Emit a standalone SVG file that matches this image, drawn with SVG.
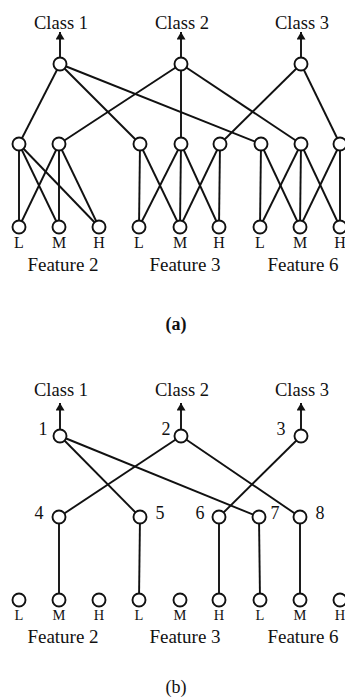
<svg xmlns="http://www.w3.org/2000/svg" width="345" height="697" viewBox="0 0 345 697">
  <style>
    .n { fill: #fff; stroke: #111; stroke-width: 1.9; }
    .e { stroke: #111; stroke-width: 1.9; fill: none; }
    .t { font-family: "Liberation Serif", "Times New Roman", serif; fill: #111; text-anchor: middle; }
    .cls { font-size: 18.5px; }
    .lvl { font-size: 16px; }
    .lvlb { font-size: 14.5px; }
    .feat { font-size: 19px; }
    .num { font-size: 18px; }
    .cap { font-size: 18px; }
  </style>
  <defs>
    <marker id="arr" viewBox="0 0 10 12" refX="10" refY="6" markerWidth="11" markerHeight="9" markerUnits="userSpaceOnUse" orient="auto">
      <path d="M0,0 L10,6 L0,12 z" fill="#111"/>
    </marker>
  </defs>
  <rect width="345" height="697" fill="#fff"/>

  <!-- ===== (a) fully connected network ===== -->
  <g id="a-connectors">
    <!-- outputs -->
    <line class="e" x1="60" y1="57.5" x2="60" y2="32" marker-end="url(#arr)"/>
    <line class="e" x1="181" y1="57.5" x2="181" y2="32" marker-end="url(#arr)"/>
    <line class="e" x1="301" y1="57.5" x2="301" y2="32" marker-end="url(#arr)"/>
    <!-- class to hidden -->
    <line class="e" x1="60" y1="64" x2="19" y2="144"/>
    <line class="e" x1="60" y1="64" x2="140" y2="144"/>
    <line class="e" x1="60" y1="64" x2="261" y2="144"/>
    <line class="e" x1="181" y1="64" x2="59" y2="144"/>
    <line class="e" x1="181" y1="64" x2="181" y2="144"/>
    <line class="e" x1="181" y1="64" x2="301" y2="144"/>
    <line class="e" x1="301" y1="64" x2="220" y2="144"/>
    <line class="e" x1="301" y1="64" x2="340" y2="144"/>
    <!-- hidden to feature 2 -->
    <line class="e" x1="19" y1="144" x2="19" y2="227"/>
    <line class="e" x1="19" y1="144" x2="59" y2="227"/>
    <line class="e" x1="19" y1="144" x2="99" y2="227"/>
    <line class="e" x1="59" y1="144" x2="19" y2="227"/>
    <line class="e" x1="59" y1="144" x2="59" y2="227"/>
    <line class="e" x1="59" y1="144" x2="99" y2="227"/>
    <!-- hidden to feature 3 -->
    <line class="e" x1="140" y1="144" x2="139" y2="227"/>
    <line class="e" x1="140" y1="144" x2="180" y2="227"/>
    <line class="e" x1="181" y1="144" x2="139" y2="227"/>
    <line class="e" x1="181" y1="144" x2="180" y2="227"/>
    <line class="e" x1="181" y1="144" x2="219" y2="227"/>
    <line class="e" x1="220" y1="144" x2="180" y2="227"/>
    <line class="e" x1="220" y1="144" x2="219" y2="227"/>
    <!-- hidden to feature 6 -->
    <line class="e" x1="261" y1="144" x2="260" y2="227"/>
    <line class="e" x1="261" y1="144" x2="300" y2="227"/>
    <line class="e" x1="301" y1="144" x2="260" y2="227"/>
    <line class="e" x1="301" y1="144" x2="300" y2="227"/>
    <line class="e" x1="301" y1="144" x2="340" y2="227"/>
    <line class="e" x1="340" y1="144" x2="300" y2="227"/>
    <line class="e" x1="340" y1="144" x2="340" y2="227"/>
  </g>

  <g id="a-class1"><circle class="n" cx="60" cy="64" r="6.5"/><text class="t cls" x="61" y="29">Class 1</text></g>
  <g id="a-class2"><circle class="n" cx="181" cy="64" r="6.5"/><text class="t cls" x="182" y="29">Class 2</text></g>
  <g id="a-class3"><circle class="n" cx="301" cy="64" r="6.5"/><text class="t cls" x="302" y="29">Class 3</text></g>

  <g id="a-h1"><circle class="n" cx="19" cy="144" r="6.5"/></g>
  <g id="a-h2"><circle class="n" cx="59" cy="144" r="6.5"/></g>
  <g id="a-h3"><circle class="n" cx="140" cy="144" r="6.5"/></g>
  <g id="a-h4"><circle class="n" cx="181" cy="144" r="6.5"/></g>
  <g id="a-h5"><circle class="n" cx="220" cy="144" r="6.5"/></g>
  <g id="a-h6"><circle class="n" cx="261" cy="144" r="6.5"/></g>
  <g id="a-h7"><circle class="n" cx="301" cy="144" r="6.5"/></g>
  <g id="a-h8"><circle class="n" cx="340" cy="144" r="6.5"/></g>

  <g id="a-f2">
    <circle class="n" cx="19" cy="227" r="6.5"/><circle class="n" cx="59" cy="227" r="6.5"/><circle class="n" cx="99" cy="227" r="6.5"/>
    <text class="t lvl" x="19" y="248">L</text><text class="t lvl" x="59" y="248">M</text><text class="t lvl" x="99" y="248">H</text>
    <text class="t feat" x="63" y="271">Feature 2</text>
  </g>
  <g id="a-f3">
    <circle class="n" cx="139" cy="227" r="6.5"/><circle class="n" cx="180" cy="227" r="6.5"/><circle class="n" cx="219" cy="227" r="6.5"/>
    <text class="t lvl" x="139" y="248">L</text><text class="t lvl" x="180" y="248">M</text><text class="t lvl" x="219" y="248">H</text>
    <text class="t feat" x="185" y="271">Feature 3</text>
  </g>
  <g id="a-f6">
    <circle class="n" cx="260" cy="227" r="6.5"/><circle class="n" cx="300" cy="227" r="6.5"/><circle class="n" cx="340" cy="227" r="6.5"/>
    <text class="t lvl" x="260" y="248">L</text><text class="t lvl" x="300" y="248">M</text><text class="t lvl" x="340" y="248">H</text>
    <text class="t feat" x="303" y="271">Feature 6</text>
  </g>
  <text class="t cap" x="176" y="330" font-weight="bold">(a)</text>

  <!-- ===== (b) pruned network ===== -->
  <g id="b-connectors">
    <line class="e" x1="60" y1="429.5" x2="60" y2="403" marker-end="url(#arr)"/>
    <line class="e" x1="181" y1="429.5" x2="181" y2="403" marker-end="url(#arr)"/>
    <line class="e" x1="301" y1="429.5" x2="301" y2="403" marker-end="url(#arr)"/>
    <line class="e" x1="60" y1="436" x2="140" y2="517"/>
    <line class="e" x1="60" y1="436" x2="259" y2="517"/>
    <line class="e" x1="181" y1="436" x2="59" y2="517"/>
    <line class="e" x1="181" y1="436" x2="300" y2="517"/>
    <line class="e" x1="301" y1="436" x2="219" y2="517"/>
    <line class="e" x1="59" y1="517" x2="59" y2="600"/>
    <line class="e" x1="140" y1="517" x2="139" y2="600"/>
    <line class="e" x1="219" y1="517" x2="219" y2="600"/>
    <line class="e" x1="259" y1="517" x2="260" y2="600"/>
    <line class="e" x1="300" y1="517" x2="300" y2="600"/>
  </g>

  <g id="b-class1"><circle class="n" cx="60" cy="436" r="6.5"/><text class="t cls" x="61" y="396">Class 1</text><text class="t num" x="43" y="435">1</text></g>
  <g id="b-class2"><circle class="n" cx="181" cy="436" r="6.5"/><text class="t cls" x="182" y="396">Class 2</text><text class="t num" x="166" y="435">2</text></g>
  <g id="b-class3"><circle class="n" cx="301" cy="436" r="6.5"/><text class="t cls" x="302" y="396">Class 3</text><text class="t num" x="281" y="435">3</text></g>

  <g id="b-h4"><circle class="n" cx="59" cy="517" r="6.5"/><text class="t num" x="39" y="519">4</text></g>
  <g id="b-h5"><circle class="n" cx="140" cy="517" r="6.5"/><text class="t num" x="160" y="519">5</text></g>
  <g id="b-h6"><circle class="n" cx="219" cy="517" r="6.5"/><text class="t num" x="200" y="519">6</text></g>
  <g id="b-h7"><circle class="n" cx="259" cy="517" r="6.5"/><text class="t num" x="275" y="519">7</text></g>
  <g id="b-h8"><circle class="n" cx="300" cy="517" r="6.5"/><text class="t num" x="320" y="519">8</text></g>

  <g id="b-f2">
    <circle class="n" cx="19" cy="600" r="6.5"/><circle class="n" cx="59" cy="600" r="6.5"/><circle class="n" cx="99" cy="600" r="6.5"/>
    <text class="t lvlb" x="19" y="620">L</text><text class="t lvlb" x="59" y="620">M</text><text class="t lvlb" x="99" y="620">H</text>
    <text class="t feat" x="63" y="643">Feature 2</text>
  </g>
  <g id="b-f3">
    <circle class="n" cx="139" cy="600" r="6.5"/><circle class="n" cx="180" cy="600" r="6.5"/><circle class="n" cx="219" cy="600" r="6.5"/>
    <text class="t lvlb" x="139" y="620">L</text><text class="t lvlb" x="180" y="620">M</text><text class="t lvlb" x="219" y="620">H</text>
    <text class="t feat" x="185" y="643">Feature 3</text>
  </g>
  <g id="b-f6">
    <circle class="n" cx="260" cy="600" r="6.5"/><circle class="n" cx="300" cy="600" r="6.5"/><circle class="n" cx="340" cy="600" r="6.5"/>
    <text class="t lvlb" x="260" y="620">L</text><text class="t lvlb" x="300" y="620">M</text><text class="t lvlb" x="340" y="620">H</text>
    <text class="t feat" x="303" y="643">Feature 6</text>
  </g>
  <text class="t cap" x="176" y="693">(b)</text>
</svg>
